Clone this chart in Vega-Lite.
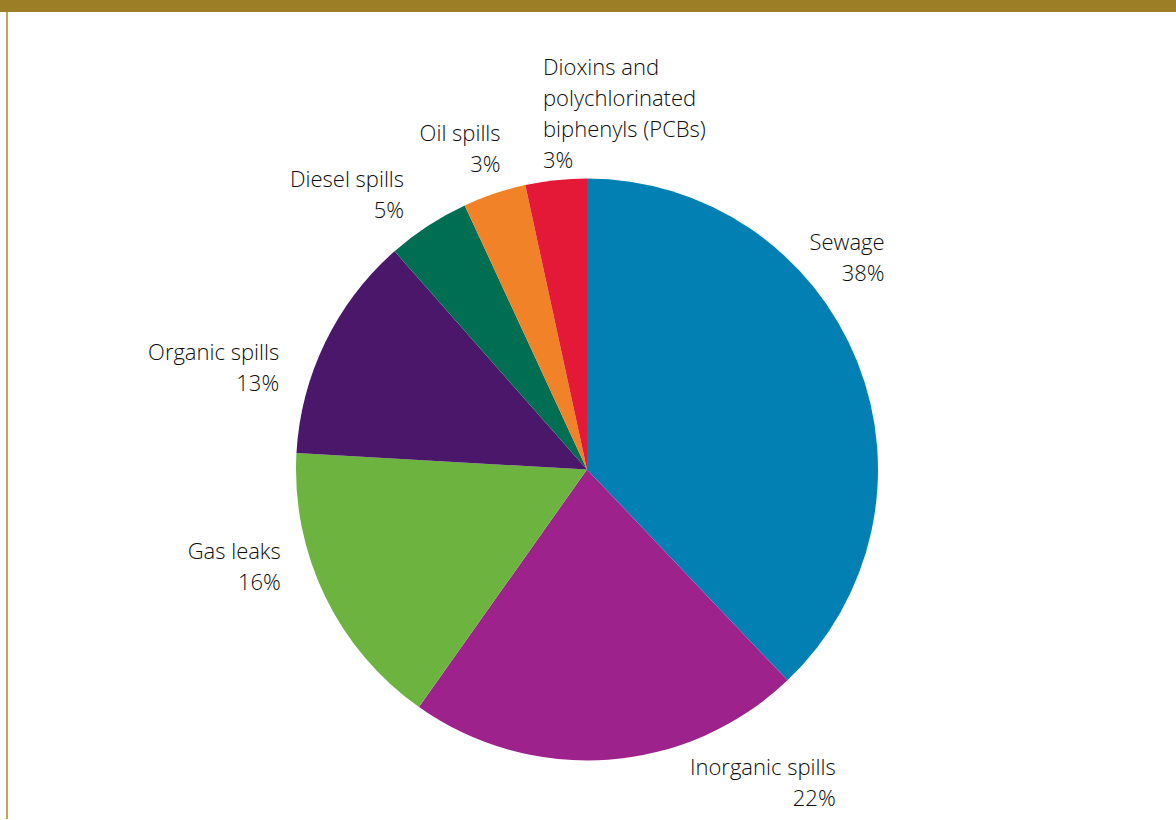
{
  "$schema": "https://vega.github.io/schema/vega-lite/v6.json",
  "width": 1176,
  "height": 820,
  "autosize": {"type": "fit", "contains": "padding"},
  "padding": 0,
  "background": "white",
  "config": {
    "view": {"stroke": null},
    "text": {"font": "Open Sans", "fontSize": 22, "fontWeight": 300, "lineHeight": 31, "lineBreak": "\n", "color": "#0d0d0d", "baseline": "alphabetic"}
  },
  "datasets": {
    "slices": [
      {"order": 1, "category": "Sewage", "label": "Sewage\n38%", "value": 37.9},
      {"order": 2, "category": "Inorganic spills", "label": "Inorganic spills\n22%", "value": 21.9},
      {"order": 3, "category": "Gas leaks", "label": "Gas leaks\n16%", "value": 16.1},
      {"order": 4, "category": "Organic spills", "label": "Organic spills\n13%", "value": 12.6},
      {"order": 5, "category": "Diesel spills", "label": "Diesel spills\n5%", "value": 4.6},
      {"order": 6, "category": "Oil spills", "label": "Oil spills\n3%", "value": 3.5},
      {"order": 7, "category": "Dioxins and polychlorinated biphenyls (PCBs)", "label": "Dioxins and\npolychlorinated\nbiphenyls (PCBs)\n3%", "value": 3.4}
    ],
    "frame": [{"part": "frame"}]
  },
  "layer": [
    {
      "data": {"name": "frame"},
      "mark": {"type": "rect", "color": "#9b7e25"},
      "encoding": {"x": {"value": 0}, "x2": {"value": "width"}, "y": {"value": 0}, "y2": {"value": 12}}
    },
    {
      "data": {"name": "frame"},
      "mark": {"type": "rule", "color": "#c2a652", "strokeWidth": 2},
      "encoding": {"x": {"value": 7}, "y": {"value": 12}, "y2": {"value": "height"}}
    },
    {
      "data": {"name": "slices"},
      "mark": {"type": "arc", "outerRadius": 291, "x": {"expr": "width/2 - 1"}, "y": {"expr": "height/2 + 60"}},
      "encoding": {
        "theta": {"field": "value", "type": "quantitative", "stack": true},
        "order": {"field": "order", "type": "quantitative", "sort": "ascending"},
        "color": {
          "field": "category", "type": "nominal", "legend": null,
          "scale": {
            "domain": ["Sewage", "Inorganic spills", "Gas leaks", "Organic spills", "Diesel spills", "Oil spills", "Dioxins and polychlorinated biphenyls (PCBs)"],
            "range": ["#0280b3", "#9e228b", "#6db33f", "#4a176a", "#006e52", "#f28227", "#e31937"]
          }
        }
      }
    },
    {
      "data": {"name": "slices"},
      "mark": {"type": "text", "radius": 300, "align": "right", "dx": 19, "dy": -108, "x": {"expr": "width/2 - 1"}, "y": {"expr": "height/2 + 60"}},
      "encoding": {
        "theta": {"field": "value", "type": "quantitative", "stack": true},
        "order": {"field": "order", "type": "quantitative", "sort": "ascending"},
        "text": {"condition": {"test": "datum.category === 'Sewage'", "field": "label"}, "value": ""}
      }
    },
    {
      "data": {"name": "slices"},
      "mark": {"type": "text", "radius": 300, "align": "right", "dx": 227, "dy": 6, "x": {"expr": "width/2 - 1"}, "y": {"expr": "height/2 + 60"}},
      "encoding": {
        "theta": {"field": "value", "type": "quantitative", "stack": true},
        "order": {"field": "order", "type": "quantitative", "sort": "ascending"},
        "text": {"condition": {"test": "datum.category === 'Inorganic spills'", "field": "label"}, "value": ""}
      }
    },
    {
      "data": {"name": "slices"},
      "mark": {"type": "text", "radius": 300, "align": "right", "dx": -36, "dy": -41, "x": {"expr": "width/2 - 1"}, "y": {"expr": "height/2 + 60"}},
      "encoding": {
        "theta": {"field": "value", "type": "quantitative", "stack": true},
        "order": {"field": "order", "type": "quantitative", "sort": "ascending"},
        "text": {"condition": {"test": "datum.category === 'Gas leaks'", "field": "label"}, "value": ""}
      }
    },
    {
      "data": {"name": "slices"},
      "mark": {"type": "text", "radius": 300, "align": "right", "dx": -38, "dy": 22, "x": {"expr": "width/2 - 1"}, "y": {"expr": "height/2 + 60"}},
      "encoding": {
        "theta": {"field": "value", "type": "quantitative", "stack": true},
        "order": {"field": "order", "type": "quantitative", "sort": "ascending"},
        "text": {"condition": {"test": "datum.category === 'Organic spills'", "field": "label"}, "value": ""}
      }
    },
    {
      "data": {"name": "slices"},
      "mark": {"type": "text", "radius": 300, "align": "right", "dx": -19, "dy": -31, "x": {"expr": "width/2 - 1"}, "y": {"expr": "height/2 + 60"}},
      "encoding": {
        "theta": {"field": "value", "type": "quantitative", "stack": true},
        "order": {"field": "order", "type": "quantitative", "sort": "ascending"},
        "text": {"condition": {"test": "datum.category === 'Diesel spills'", "field": "label"}, "value": ""}
      }
    },
    {
      "data": {"name": "slices"},
      "mark": {"type": "text", "radius": 300, "align": "right", "dx": 9, "dy": -44, "x": {"expr": "width/2 - 1"}, "y": {"expr": "height/2 + 60"}},
      "encoding": {
        "theta": {"field": "value", "type": "quantitative", "stack": true},
        "order": {"field": "order", "type": "quantitative", "sort": "ascending"},
        "text": {"condition": {"test": "datum.category === 'Oil spills'", "field": "label"}, "value": ""}
      }
    },
    {
      "data": {"name": "slices"},
      "mark": {"type": "text", "radius": 300, "align": "left", "dx": -12, "dy": -96, "x": {"expr": "width/2 - 1"}, "y": {"expr": "height/2 + 60"}},
      "encoding": {
        "theta": {"field": "value", "type": "quantitative", "stack": true},
        "order": {"field": "order", "type": "quantitative", "sort": "ascending"},
        "text": {"condition": {"test": "datum.category === 'Dioxins and polychlorinated biphenyls (PCBs)'", "field": "label"}, "value": ""}
      }
    }
  ]
}
